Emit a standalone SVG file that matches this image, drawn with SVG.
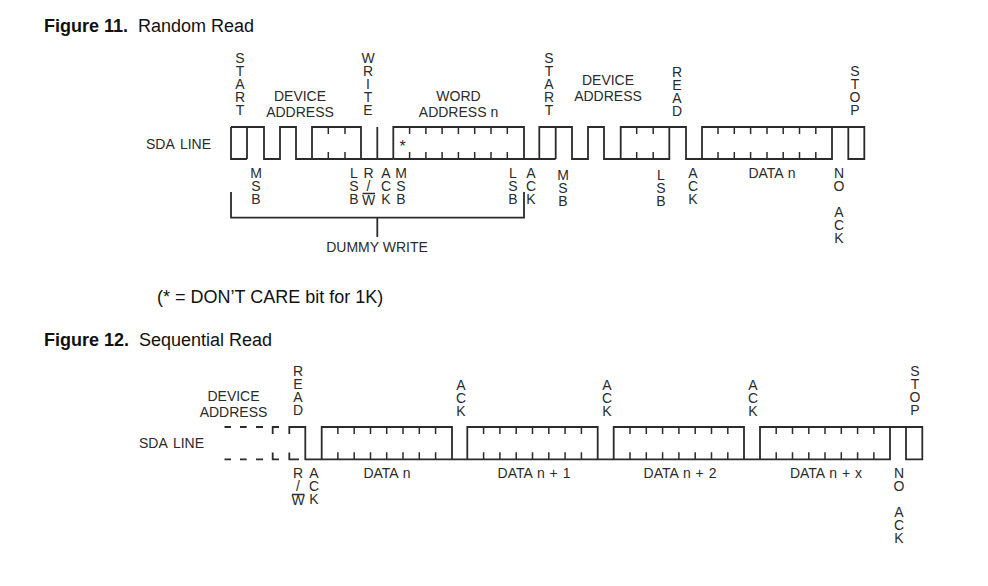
<svg xmlns="http://www.w3.org/2000/svg" width="988" height="586" viewBox="0 0 988 586">
<style>
text{font-family:"Liberation Sans",Arial,sans-serif;fill:#2b2b2b}
.l{font-size:14px;text-anchor:middle}
.s{font-size:14px;word-spacing:2px}
.d{word-spacing:1px}
.t{font-size:18px;fill:#111}
.b{font-weight:bold}
.n{font-size:18px;fill:#111}
.w{fill:none;stroke:#2b2b2b;stroke-width:1.8}
.k{fill:none;stroke:#2b2b2b;stroke-width:1.5}
</style>
<rect width="988" height="586" fill="#fff"/>
<g id="titles">
<text class="t b" x="44" y="32">Figure 11.</text><text class="t" x="138" y="32">Random Read</text>
<text class="t b" x="44" y="346">Figure 12.</text><text class="t" x="139" y="346">Sequential Read</text>
<text class="n" x="157" y="303">(* = DON’T CARE bit for 1K)</text>
</g>
<g id="connectors">
<path id="sda-wave-1" class="w" d="M231 127H264V159H280V127H296V159H361V127H312V159M247 127V159M231 127V159H247M361 127V159M377.3 127V159M361 159H393.3M393.3 159V127H524V159H393.3M524 159H539.3V127H572V159H588V127H604V159H669.3V127H620.7V159M555.7 127V159M539.3 159H555.7M669.3 127H686V159H702V127H832V159H702M832 127H864.3V159H848.3V127"/>
<path id="ticks-1" class="k" d="M328.3 127v7M345 127v7M328.3 159v-7M345 159v-7M409.6 127v7M425.9 127v7M442.1 127v7M458.4 127v7M474.7 127v7M491 127v7M507.3 127v7M409.6 159v-7M425.9 159v-7M442.1 159v-7M458.4 159v-7M474.7 159v-7M491 159v-7M507.3 159v-7M636.7 127v7M653.2 127v7M636.7 159v-7M653.2 159v-7M718 127v7M734.3 127v7M750.6 127v7M767 127v7M783.2 127v7M799.5 127v7M815.8 127v7M718 159v-7M734.3 159v-7M750.6 159v-7M767 159v-7M783.2 159v-7M799.5 159v-7M815.8 159v-7"/>
<path id="dummy-bracket" class="w" d="M231 192V217.7H524V192M377.3 217.7V237"/>
<path id="sda-wave-2" class="w" d="M289.3 434V427H305.3V459.3H890V427H922.3V459.3H906V427M321.7 459.3V427H452V459.3M467.3 459.3V427H597.7V459.3M613.7 459.3V427H744V459.3M760 459.3V427H890V459.3M289.3 452.5V459.3H299"/>
<path id="dash-2" class="w" d="M224.5 427H231M240 427H246.7M256 427H263M279 427H272.7V434M224.5 459.3H231M240 459.3H246.7M256 459.3H263M272.7 452.5V459.3H279"/>
<path id="ticks-2" class="k" d="M337.9 427v7M354.2 427v7M370.5 427v7M386.7 427v7M403 427v7M419.3 427v7M435.6 427v7M337.9 459.3v-7M354.2 459.3v-7M370.5 459.3v-7M386.7 459.3v-7M403 459.3v-7M419.3 459.3v-7M435.6 459.3v-7M483.6 427v7M499.9 427v7M516.2 427v7M532.5 427v7M548.8 427v7M565.1 427v7M581.4 427v7M483.6 459.3v-7M499.9 459.3v-7M516.2 459.3v-7M532.5 459.3v-7M548.8 459.3v-7M565.1 459.3v-7M581.4 459.3v-7M630 427v7M646.3 427v7M662.6 427v7M678.9 427v7M695.2 427v7M711.5 427v7M727.8 427v7M630 459.3v-7M646.3 459.3v-7M662.6 459.3v-7M678.9 459.3v-7M695.2 459.3v-7M711.5 459.3v-7M727.8 459.3v-7M776.2 427v7M792.5 427v7M808.8 427v7M825 427v7M841.3 427v7M857.6 427v7M873.9 427v7M776.2 459.3v-7M792.5 459.3v-7M808.8 459.3v-7M825 459.3v-7M841.3 459.3v-7M857.6 459.3v-7M873.9 459.3v-7"/>
<path id="overlines" class="k" d="M362.5 193.500H375M292 494.500H304.500"/>
</g>
<g id="labels-1">
<text class="s" x="146" y="149">SDA LINE</text>
<text class="l" x="240" y="63">S<tspan x="240" dy="13">T</tspan><tspan x="240" dy="13">A</tspan><tspan x="240" dy="13">R</tspan><tspan x="240" dy="13">T</tspan></text>
<text class="l" x="300" y="101">DEVICE<tspan x="300" dy="15.5">ADDRESS</tspan></text>
<text class="l" x="368" y="63">W<tspan x="368" dy="13">R</tspan><tspan x="368" dy="13">I</tspan><tspan x="368" dy="13">T</tspan><tspan x="368" dy="13">E</tspan></text>
<text class="l" x="458.500" y="101">WORD<tspan x="458.500" dy="15.500">ADDRESS n</tspan></text>
<text class="l" x="549" y="63">S<tspan x="549" dy="13">T</tspan><tspan x="549" dy="13">A</tspan><tspan x="549" dy="13">R</tspan><tspan x="549" dy="13">T</tspan></text>
<text class="l" x="608" y="85">DEVICE<tspan x="608" dy="15.500">ADDRESS</tspan></text>
<text class="l" x="677" y="77">R<tspan x="677" dy="13">E</tspan><tspan x="677" dy="13">A</tspan><tspan x="677" dy="13">D</tspan></text>
<text class="l" x="855" y="76">S<tspan x="855" dy="13">T</tspan><tspan x="855" dy="13">O</tspan><tspan x="855" dy="13">P</tspan></text>
<text class="l" x="402.500" y="152" font-size="16" style="font-size:16px">*</text>
<text class="l" x="256" y="178">M<tspan x="256" dy="13">S</tspan><tspan x="256" dy="13">B</tspan></text>
<text class="l" x="354" y="177.500">L<tspan x="354" dy="13.300">S</tspan><tspan x="354" dy="13.300">B</tspan></text>
<text class="l" x="368.500" y="177.500">R<tspan x="368.500" dy="13">/</tspan><tspan x="368.500" dy="14">W</tspan></text>
<text class="l" x="386" y="177.500">A<tspan x="386" dy="13.300">C</tspan><tspan x="386" dy="13.300">K</tspan></text>
<text class="l" x="401" y="177.500">M<tspan x="401" dy="13.300">S</tspan><tspan x="401" dy="13.300">B</tspan></text>
<text class="l" x="513" y="177.500">L<tspan x="513" dy="13.300">S</tspan><tspan x="513" dy="13.300">B</tspan></text>
<text class="l" x="531" y="177.500">A<tspan x="531" dy="13.300">C</tspan><tspan x="531" dy="13.300">K</tspan></text>
<text class="l" x="563" y="180">M<tspan x="563" dy="13">S</tspan><tspan x="563" dy="13">B</tspan></text>
<text class="l" x="661" y="180">L<tspan x="661" dy="13">S</tspan><tspan x="661" dy="13">B</tspan></text>
<text class="l" x="693" y="178">A<tspan x="693" dy="13">C</tspan><tspan x="693" dy="13">K</tspan></text>
<text class="l d" x="772" y="178">DATA n</text>
<text class="l" x="839" y="178">N<tspan x="839" dy="13">O</tspan></text>
<text class="l" x="839" y="217">A<tspan x="839" dy="13">C</tspan><tspan x="839" dy="13">K</tspan></text>
<text class="l" x="377" y="252">DUMMY WRITE</text>
</g>
<g id="labels-2">
<text class="s" x="139" y="448">SDA LINE</text>
<text class="l" x="233.500" y="401">DEVICE<tspan x="233.500" dy="15.500">ADDRESS</tspan></text>
<text class="l" x="298" y="376">R<tspan x="298" dy="13">E</tspan><tspan x="298" dy="13">A</tspan><tspan x="298" dy="13">D</tspan></text>
<text class="l" x="461" y="390">A<tspan x="461" dy="13">C</tspan><tspan x="461" dy="13">K</tspan></text>
<text class="l" x="607" y="390">A<tspan x="607" dy="13">C</tspan><tspan x="607" dy="13">K</tspan></text>
<text class="l" x="753" y="390">A<tspan x="753" dy="13">C</tspan><tspan x="753" dy="13">K</tspan></text>
<text class="l" x="915" y="376">S<tspan x="915" dy="13">T</tspan><tspan x="915" dy="13">O</tspan><tspan x="915" dy="13">P</tspan></text>
<text class="l" x="298" y="477.500">R<tspan x="298" dy="13">/</tspan><tspan x="298" dy="14.500">W</tspan></text>
<text class="l" x="314" y="477.500">A<tspan x="314" dy="13.300">C</tspan><tspan x="314" dy="13.300">K</tspan></text>
<text class="l d" x="387" y="478">DATA n</text>
<text class="l d" x="534" y="478">DATA n + 1</text>
<text class="l d" x="680" y="478">DATA n + 2</text>
<text class="l d" x="826" y="478">DATA n + x</text>
<text class="l" x="899" y="478">N<tspan x="899" dy="13">O</tspan></text>
<text class="l" x="899" y="517">A<tspan x="899" dy="13">C</tspan><tspan x="899" dy="13">K</tspan></text>
</g>
</svg>
